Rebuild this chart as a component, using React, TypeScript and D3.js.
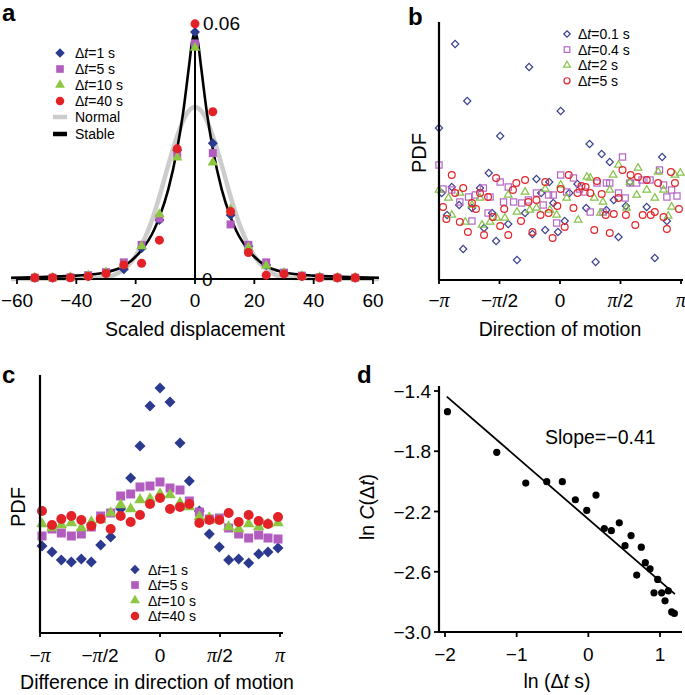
import React from "react";
import * as d3 from "d3";

const FONT = "Liberation Sans, Arial, Helvetica, sans-serif";
const SERIF = "Liberation Serif, Times New Roman, serif";

const BLUE = "#2b3a8f";
const PURPLE = "#b35cc0";
const GREEN = "#8dc641";
const RED = "#e32228";

// ---------- Panel a ----------
const aX = [-54, -48, -42, -36, -30, -24, -18, -12, -6, 0, 6, 12, 18, 24, 30, 36, 42, 48, 54];
const aBlue = [0.0003, 0.0003, 0.0004, 0.0007, 0.0015, 0.0023, 0.0072, 0.0138, 0.0302, 0.0579, 0.0318, 0.015, 0.0077, 0.0033, 0.0014, 0.0007, 0.0004, 0.0003, 0.0003];
const aPurple = [0.0003, 0.0003, 0.0004, 0.0009, 0.0016, 0.0039, 0.008, 0.0142, 0.0293, 0.0552, 0.0295, 0.0128, 0.008, 0.0039, 0.0015, 0.0008, 0.0004, 0.0003, 0.0003];
const aGreen = [0.0003, 0.0003, 0.0004, 0.0008, 0.0015, 0.0033, 0.0077, 0.0152, 0.0285, 0.0542, 0.0273, 0.0163, 0.0074, 0.0031, 0.0014, 0.0007, 0.0004, 0.0003, 0.0003];
const aRed = [0.0003, 0.0003, 0.0003, 0.0006, 0.0013, 0.0033, 0.0037, 0.0091, 0.0305, 0.0598, 0.0392, 0.0158, 0.0062, 0.0009, 0.0012, 0.0006, 0.0003, 0.0003, 0.0003];
const normalX = [-62, -40, -30, -27, -24, -21, -18, -15, -12, -9, -6, -3, 0, 3, 6, 9, 12, 15, 18, 21, 24, 27, 30, 40, 62];
const normalY = [0, 0.0001, 0.0004, 0.001, 0.0023, 0.0044, 0.0079, 0.0128, 0.0193, 0.0267, 0.0335, 0.0385, 0.0403, 0.0385, 0.0335, 0.0267, 0.0193, 0.0128, 0.0079, 0.0044, 0.0023, 0.001, 0.0004, 0.0001, 0];
const stableX = [-62, -50, -40, -30, -24, -18, -14, -12, -9, -6, -4, -2, -1, 0, 1, 2, 4, 6, 9, 12, 14, 18, 24, 30, 40, 50, 62];
const stableY = [0.0003, 0.0005, 0.0008, 0.0016, 0.003, 0.0068, 0.0112, 0.0145, 0.021, 0.0305, 0.039, 0.05, 0.0555, 0.0578, 0.0555, 0.05, 0.039, 0.0305, 0.021, 0.0145, 0.0112, 0.0068, 0.003, 0.0016, 0.0008, 0.0005, 0.0003];
const aXTicks = [-60, -40, -20, 0, 20, 40, 60];
const aXTickLabels = ["\u221260", "\u221240", "\u221220", "0", "20", "40", "60"];
const aLegend = ["1 s", "5 s", "10 s", "40 s"];

// ---------- Panel b ----------
const bBlue: [number, number][] = [
  [-180, 0.152], [-176, 0.087], [-168, 0.065], [-161, 0.093], [-156, 0.236], [-150, 0.075], [-144, 0.031], [-138, 0.179],
  [-131, 0.072], [-119, 0.092], [-113, 0.052], [-106, 0.107], [-101, 0.067], [-95, 0.039], [-89, 0.144], [-77, 0.056],
  [-64, 0.02], [-52, 0.067], [-46, 0.213], [-41, 0.046], [-35, 0.101], [-28, 0.087], [-22, 0.05], [-16, 0.098],
  [-10, 0.077], [-3, 0.048], [1, 0.169], [7, 0.059], [14, 0.087], [26, 0.096], [39, 0.072], [44, 0.136],
  [53, 0.018], [62, 0.126], [69, 0.07], [74, 0.118], [80, 0.08], [87, 0.043], [98, 0.074], [104, 0.098],
  [129, 0.073], [141, 0.022], [152, 0.123], [159, 0.059],
];
const bPurple: [number, number][] = [
  [-180, 0.115], [-174, 0.091], [-161, 0.09], [-149, 0.078], [-136, 0.083], [-131, 0.059], [-126, 0.085], [-114, 0.092],
  [-107, 0.067], [-104, 0.083], [-89, 0.098], [-84, 0.078], [-77, 0.093], [-69, 0.078], [-57, 0.077], [-47, 0.08],
  [-35, 0.087], [-25, 0.075], [-17, 0.085], [-10, 0.085], [-5, 0.057], [1, 0.105], [10, 0.088], [20, 0.102],
  [29, 0.091], [37, 0.088], [45, 0.068], [55, 0.097], [64, 0.068], [69, 0.097], [74, 0.097], [87, 0.087],
  [93, 0.123], [97, 0.082], [104, 0.097], [114, 0.097], [122, 0.1], [134, 0.1], [148, 0.11], [154, 0.095],
  [159, 0.083], [166, 0.09], [174, 0.084],
];
const bGreen: [number, number][] = [
  [-180, 0.09], [-166, 0.082], [-161, 0.065], [-149, 0.087], [-141, 0.058], [-131, 0.075], [-119, 0.082], [-116, 0.055],
  [-104, 0.058], [-94, 0.062], [-82, 0.062], [-77, 0.085], [-64, 0.068], [-52, 0.088], [-45, 0.07], [-35, 0.072],
  [-22, 0.091], [-15, 0.07], [-5, 0.065], [1, 0.095], [10, 0.082], [27, 0.06], [40, 0.103], [45, 0.102],
  [51, 0.082], [60, 0.067], [64, 0.078], [74, 0.09], [79, 0.105], [87, 0.115], [99, 0.072], [104, 0.098],
  [114, 0.085], [116, 0.112], [129, 0.09], [141, 0.082], [146, 0.108], [154, 0.09], [161, 0.064], [166, 0.073],
  [171, 0.105], [179, 0.107],
];
const bRed: [number, number][] = [
  [-174, 0.073], [-169, 0.061], [-161, 0.105], [-156, 0.087], [-149, 0.058], [-144, 0.092], [-137, 0.048], [-131, 0.077],
  [-125, 0.071], [-119, 0.087], [-113, 0.045], [-107, 0.083], [-100, 0.063], [-95, 0.102], [-89, 0.054], [-83, 0.071],
  [-77, 0.045], [-70, 0.09], [-65, 0.097], [-58, 0.059], [-52, 0.1], [-47, 0.078], [-41, 0.048], [-35, 0.08],
  [-29, 0.065], [-22, 0.098], [-17, 0.067], [-11, 0.042], [-4, 0.074], [1, 0.091], [7, 0.053], [13, 0.105],
  [20, 0.072], [26, 0.087], [32, 0.094], [38, 0.093], [45, 0.087], [51, 0.05], [55, 0.099], [62, 0.086],
  [68, 0.065], [74, 0.047], [80, 0.066], [87, 0.082], [93, 0.11], [98, 0.065], [105, 0.105], [112, 0.055],
  [116, 0.103], [123, 0.065], [129, 0.1], [135, 0.065], [141, 0.068], [146, 0.097], [154, 0.063], [159, 0.051],
  [165, 0.108], [171, 0.097], [177, 0.071],
];
const bLegend = ["0.1 s", "0.4 s", "2 s", "5 s"];
const piTicks = [-180, -90, 0, 90, 180];
const piTickLabels = ["\u2212\u03c0", "\u2212\u03c0/2", "0", "\u03c0/2", "\u03c0"];

// ---------- Panel c ----------
const cX = [-177, -162, -148, -133, -118, -103, -89, -74, -59, -44, -30, -15, 0, 15, 30, 44, 59, 74, 89, 103, 118, 133, 148, 162, 177];
const cBlue = [0.087, 0.081, 0.073, 0.071, 0.074, 0.071, 0.088, 0.096, 0.124, 0.155, 0.187, 0.227, 0.245, 0.231, 0.19, 0.152, 0.122, 0.099, 0.086, 0.073, 0.074, 0.07, 0.079, 0.081, 0.085];
const cPurple = [0.097, 0.104, 0.1, 0.097, 0.099, 0.106, 0.117, 0.12, 0.137, 0.139, 0.146, 0.147, 0.151, 0.145, 0.143, 0.132, 0.121, 0.114, 0.115, 0.105, 0.099, 0.095, 0.098, 0.095, 0.094];
const cGreen = [0.109, 0.105, 0.108, 0.11, 0.105, 0.111, 0.113, 0.12, 0.128, 0.124, 0.133, 0.134, 0.139, 0.138, 0.13, 0.126, 0.116, 0.115, 0.113, 0.106, 0.104, 0.109, 0.106, 0.109, 0.11];
const cRed = [0.122, 0.108, 0.114, 0.117, 0.113, 0.107, 0.114, 0.104, 0.117, 0.111, 0.118, 0.129, 0.135, 0.124, 0.126, 0.129, 0.11, 0.113, 0.113, 0.12, 0.111, 0.118, 0.112, 0.109, 0.116];

// ---------- Panel d ----------
const dX = [-1.966, -1.278, -0.873, -0.58, -0.363, -0.181, -0.022, 0.107, 0.223, 0.321, 0.432, 0.512, 0.596, 0.675, 0.739, 0.795, 0.861, 0.968, 0.916, 1.023, 1.116, 1.07, 1.163, 1.2];
const dY = [-1.537, -1.807, -2.011, -2.002, -2.002, -2.122, -2.193, -2.091, -2.313, -2.327, -2.275, -2.427, -2.36, -2.622, -2.437, -2.54, -2.58, -2.651, -2.74, -2.74, -2.727, -2.793, -2.867, -2.877];
const dFitX = [-1.975, 1.209];
const dFitY = [-1.437, -2.749];
const dXTicks = [-2, -1, 0, 1];
const dXTickLabels = ["\u22122", "\u22121", "0", "1"];
const dYTicks = [-1.4, -1.8, -2.2, -2.6, -3.0];
const dYTickLabels = ["\u22121.4", "\u22121.8", "\u22122.2", "\u22122.6", "\u22123.0"];

// ---------- scales ----------
const xA = d3.scaleLinear().domain([-60, 60]).range([17, 373]);
const yA = d3.scaleLinear().domain([0, 0.06]).range([279, 23]);
const xB = d3.scaleLinear().domain([-180, 180]).range([439, 681]);
const yB = d3.scaleLinear().domain([0, 0.258]).range([280, 22]);
const xC = d3.scaleLinear().domain([-180, 180]).range([40, 280]);
const yC = d3.scaleLinear().domain([0, 0.258]).range([633, 375]);
const xD = d3.scaleLinear().domain([-2, 1]).range([445, 660]);
const yD = d3.scaleLinear().domain([-3, -1.4]).range([632, 391]);

type Shape = "diamond" | "square" | "triangle" | "circle";

function Marker({ shape, x, y, s, color, hollow }: { shape: Shape; x: number; y: number; s: number; color: string; hollow?: boolean }) {
  const fill = hollow ? "none" : color;
  const stroke = hollow ? color : "none";
  const sw = hollow ? 1.2 : 0;
  if (shape === "circle") return <circle cx={x} cy={y} r={s} fill={fill} stroke={stroke} strokeWidth={sw} />;
  if (shape === "square") return <rect x={x - s} y={y - s} width={2 * s} height={2 * s} fill={fill} stroke={stroke} strokeWidth={sw} />;
  if (shape === "diamond") {
    const p = d3.path();
    p.moveTo(x, y - s);
    p.lineTo(x + s, y);
    p.lineTo(x, y + s);
    p.lineTo(x - s, y);
    p.closePath();
    return <path d={p.toString()} fill={fill} stroke={stroke} strokeWidth={sw} />;
  }
  const h = s * 1.732;
  const p = d3.path();
  p.moveTo(x, y - (2 * h) / 3);
  p.lineTo(x + s, y + h / 3);
  p.lineTo(x - s, y + h / 3);
  p.closePath();
  return <path d={p.toString()} fill={fill} stroke={stroke} strokeWidth={sw} />;
}

function PiLabel({ label, x, y }: { label: string; x: number; y: number }) {
  return (
    <text x={x} y={y} textAnchor="middle" fontFamily={FONT} fontSize={19}>
      {label.split("").map((ch, i) =>
        ch === "\u03c0" ? (
          <tspan key={i} fontFamily={SERIF} fontStyle="italic" fontSize={20}>
            {ch}
          </tspan>
        ) : (
          <tspan key={i}>{ch}</tspan>
        )
      )}
    </text>
  );
}

function DtText({ x, y, v, size = 14 }: { x: number; y: number; v: string; size?: number }) {
  return (
    <text x={x} y={y} fontFamily={FONT} fontSize={size}>
      {"\u0394"}
      <tspan fontStyle="italic">t</tspan>={v}
    </text>
  );
}

export default function App() {
  const lineA = d3
    .line<[number, number]>()
    .x((d) => xA(d[0]))
    .y((d) => yA(d[1]))
    .curve(d3.curveMonotoneX);
  const normalPts = normalX.map((x, i) => [x, normalY[i]] as [number, number]);
  const stablePts = stableX.map((x, i) => [x, stableY[i]] as [number, number]);

  const aSeries: { vals: number[]; shape: Shape; color: string; s: number }[] = [
    { vals: aBlue, shape: "diamond", color: BLUE, s: 5 },
    { vals: aPurple, shape: "square", color: PURPLE, s: 4 },
    { vals: aGreen, shape: "triangle", color: GREEN, s: 5.2 },
    { vals: aRed, shape: "circle", color: RED, s: 4.5 },
  ];
  const bSeries: { pts: [number, number][]; shape: Shape; color: string; s: number }[] = [
    { pts: bBlue, shape: "diamond", color: "#3a3f8f", s: 3.6 },
    { pts: bPurple, shape: "square", color: "#b366c6", s: 3.1 },
    { pts: bGreen, shape: "triangle", color: "#86c24a", s: 3.8 },
    { pts: bRed, shape: "circle", color: "#e3262b", s: 3.4 },
  ];
  const cSeries: { vals: number[]; shape: Shape; color: string; s: number }[] = [
    { vals: cBlue, shape: "diamond", color: BLUE, s: 5.5 },
    { vals: cPurple, shape: "square", color: PURPLE, s: 4.5 },
    { vals: cGreen, shape: "triangle", color: GREEN, s: 5.8 },
    { vals: cRed, shape: "circle", color: RED, s: 5 },
  ];

  const ax = { stroke: "#000", strokeWidth: 2.2, fill: "none" } as const;

  return (
    <svg width={685} height={695} style={{ position: "absolute", left: 0, top: 0, background: "#fff" }}>
      {/* ===== Panel a ===== */}
      <text x={2} y={21} fontFamily={FONT} fontSize={24} fontWeight="bold">a</text>
      <path d={lineA(normalPts) || ""} fill="none" stroke="#cccccc" strokeWidth={4.5} />
      <path d={lineA(stablePts) || ""} fill="none" stroke="#000" strokeWidth={2.6} />
      <line x1={xA(-60)} x2={xA(60)} y1={yA(0)} y2={yA(0)} stroke="#000" strokeWidth={1.8} />
      {aXTicks.map((t) => (
        <line key={t} x1={xA(t)} x2={xA(t)} y1={yA(0)} y2={yA(0) + 5} stroke="#000" strokeWidth={1.8} />
      ))}
      {aXTicks.map((t, i) => (
        <text key={t} x={xA(t)} y={307} textAnchor="middle" fontFamily={FONT} fontSize={19}>
          {aXTickLabels[i]}
        </text>
      ))}
      <text x={xA(0)} y={336} textAnchor="middle" fontFamily={FONT} fontSize={19.5}>Scaled displacement</text>
      <line x1={xA(0)} x2={xA(0)} y1={yA(0)} y2={yA(0.06)} stroke="#000" strokeWidth={2} />
      <line x1={xA(0)} x2={xA(0) + 4} y1={yA(0.06)} y2={yA(0.06)} stroke="#000" strokeWidth={1.5} />
      <text x={xA(0) + 8} y={yA(0.06) + 7} fontFamily={FONT} fontSize={19}>0.06</text>
      <text x={xA(0) + 7} y={yA(0) + 7} fontFamily={FONT} fontSize={19}>0</text>
      {aSeries.map((s, si) =>
        aX.map((x, i) => <Marker key={si + "-" + i} shape={s.shape} x={xA(x)} y={yA(s.vals[i])} s={s.s} color={s.color} />)
      )}
      {aSeries.map((s, i) => (
        <g key={"la" + i}>
          <Marker shape={s.shape} x={60} y={53 + i * 16} s={s.s * 0.95} color={s.color} />
          <DtText x={75} y={58 + i * 16} v={aLegend[i]} />
        </g>
      ))}
      <line x1={53} x2={67} y1={117} y2={117} stroke="#cccccc" strokeWidth={4.5} />
      <text x={75} y={122} fontFamily={FONT} fontSize={14}>Normal</text>
      <line x1={53} x2={67} y1={134} y2={134} stroke="#000" strokeWidth={4.5} />
      <text x={75} y={139} fontFamily={FONT} fontSize={14}>Stable</text>

      {/* ===== Panel b ===== */}
      <text x={408} y={25} fontFamily={FONT} fontSize={24} fontWeight="bold">b</text>
      {bSeries.map((s, si) =>
        s.pts.map((p, i) => (
          <Marker key={"b" + si + "-" + i} shape={s.shape} x={xB(p[0])} y={yB(p[1])} s={s.s} color={s.color} hollow />
        ))
      )}
      <line x1={xB(-180)} x2={xB(-180)} y1={yB(0.258)} y2={yB(0)} {...ax} />
      <line x1={xB(-180)} x2={683} y1={yB(0)} y2={yB(0)} {...ax} />
      {piTicks.map((t) => (
        <line key={t} x1={xB(t)} x2={xB(t)} y1={yB(0)} y2={yB(0) + 4} stroke="#000" strokeWidth={1.8} />
      ))}
      {piTicks.map((t, i) => (
        <PiLabel key={t} label={piTickLabels[i]} x={xB(t)} y={307} />
      ))}
      <text x={xB(0)} y={336} textAnchor="middle" fontFamily={FONT} fontSize={19.5}>Direction of motion</text>
      <text transform={`translate(426,${153}) rotate(-90)`} textAnchor="middle" fontFamily={FONT} fontSize={20}>PDF</text>
      {bSeries.map((s, i) => (
        <g key={"lb" + i}>
          <Marker shape={s.shape} x={567} y={34 + i * 15.6} s={s.s * 0.9} color={s.color} hollow />
          <DtText x={578} y={39 + i * 15.6} v={bLegend[i]} />
        </g>
      ))}

      {/* ===== Panel c ===== */}
      <text x={2} y={383} fontFamily={FONT} fontSize={24} fontWeight="bold">c</text>
      {cSeries.map((s, si) =>
        cX.map((x, i) => <Marker key={"c" + si + "-" + i} shape={s.shape} x={xC(x)} y={yC(s.vals[i])} s={s.s} color={s.color} />)
      )}
      <line x1={xC(-180)} x2={xC(-180)} y1={yC(0.258)} y2={yC(0)} {...ax} />
      <line x1={xC(-180)} x2={283} y1={yC(0)} y2={yC(0)} {...ax} />
      {piTicks.map((t) => (
        <line key={t} x1={xC(t)} x2={xC(t)} y1={yC(0)} y2={yC(0) + 4} stroke="#000" strokeWidth={1.8} />
      ))}
      {piTicks.map((t, i) => (
        <PiLabel key={t} label={piTickLabels[i]} x={xC(t)} y={662} />
      ))}
      <text x={157} y={689} textAnchor="middle" fontFamily={FONT} fontSize={19.5}>Difference in direction of motion</text>
      <text transform={`translate(25,${507}) rotate(-90)`} textAnchor="middle" fontFamily={FONT} fontSize={20}>PDF</text>
      {cSeries.map((s, i) => (
        <g key={"lc" + i}>
          <Marker shape={s.shape} x={135} y={569.5 + i * 15.5} s={s.s * 0.85} color={s.color} />
          <DtText x={148} y={574.5 + i * 15.5} v={aLegend[i]} />
        </g>
      ))}

      {/* ===== Panel d ===== */}
      <text x={357} y={383} fontFamily={FONT} fontSize={24} fontWeight="bold">d</text>
      <line x1={439} x2={439} y1={386} y2={yD(-3)} {...ax} />
      <line x1={439} x2={682} y1={yD(-3)} y2={yD(-3)} {...ax} />
      {dYTicks.map((t, i) => (
        <g key={"dy" + i}>
          <line x1={434} x2={439} y1={yD(t)} y2={yD(t)} stroke="#000" strokeWidth={1.8} />
          <text x={431} y={yD(t) + 7} textAnchor="end" fontFamily={FONT} fontSize={19}>{dYTickLabels[i]}</text>
        </g>
      ))}
      {dXTicks.map((t, i) => (
        <g key={"dx" + i}>
          <line x1={xD(t)} x2={xD(t)} y1={yD(-3)} y2={yD(-3) + 5} stroke="#000" strokeWidth={1.8} />
          <text x={xD(t)} y={661} textAnchor="middle" fontFamily={FONT} fontSize={19}>{dXTickLabels[i]}</text>
        </g>
      ))}
      <line x1={xD(dFitX[0])} x2={xD(dFitX[1])} y1={yD(dFitY[0])} y2={yD(dFitY[1])} stroke="#000" strokeWidth={1.8} />
      {dX.map((x, i) => (
        <circle key={"d" + i} cx={xD(x)} cy={yD(dY[i])} r={3.6} fill="#000" />
      ))}
      <text x={545} y={444} fontFamily={FONT} fontSize={19.5}>Slope={"\u2212"}0.41</text>
      <text x={557} y={688} textAnchor="middle" fontFamily={FONT} fontSize={19.5}>
        ln ({"\u0394"}<tspan fontStyle="italic">t</tspan> s)
      </text>
      <text transform={`translate(374,507) rotate(-90)`} textAnchor="middle" fontFamily={FONT} fontSize={19.5}>
        ln <tspan fontStyle="italic">C</tspan>({"\u0394"}<tspan fontStyle="italic">t</tspan>)
      </text>
    </svg>
  );
}
